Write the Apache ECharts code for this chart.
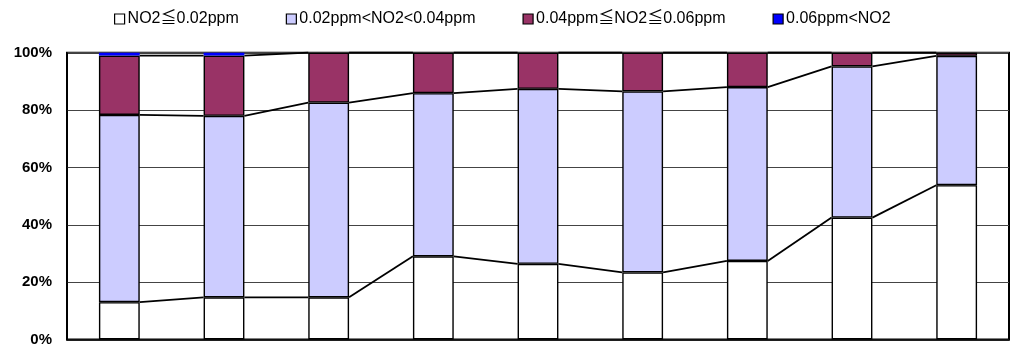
<!DOCTYPE html>
<html>
<head>
<meta charset="utf-8">
<script src="https://cdn.jsdelivr.net/npm/echarts@6/dist/echarts.min.js"></script>
<style>
  html, body { margin: 0; padding: 0; background: #fff; }
  #chart { width: 1011px; height: 347px; }
</style>
</head>
<body>
<div id="chart"></div>
<script>
// Survey groups (axis labels fall below the visible frame)
const categories = ['1', '2', '3', '4', '5', '6', '7', '8', '9'];

// Share of measurements per NO2 concentration band (%)
const low = [13.0, 14.7, 14.7, 29.0, 26.4, 23.4, 27.4, 42.5, 53.8];
const midLow = [65.3, 63.3, 67.9, 56.9, 61.0, 63.1, 60.6, 52.7, 45.1];
const midHigh = [20.7, 21.0, 17.4, 14.1, 12.6, 13.5, 12.0, 4.8, 1.1];
const high = [1.0, 1.0, 0, 0, 0, 0, 0, 0, 0];

const seriesNames = ['NO2≦0.02ppm', '0.02ppm<NO2<0.04ppm', '0.04ppm≦NO2≦0.06ppm', '0.06ppm<NO2'];
const seriesColors = ['#FFFFFF', '#CCCCFF', '#993366', '#0000FF'];
const yTicks = [0, 20, 40, 60, 80, 100];

const bands = [low, midLow, midHigh, high];
const BAR_RATIO = 0.39;

// Cumulative tops of the first three bands, used for the connecting series lines
const cumulative = [];
let running = categories.map(() => 0);
for (let b = 0; b < 3; b++) {
  running = running.map((v, i) => v + bands[b][i]);
  cumulative.push(running.slice());
}
const connectorData = [];
cumulative.forEach(level => {
  for (let i = 0; i < categories.length - 1; i++) {
    connectorData.push([i, level[i], level[i + 1]]);
  }
});

const chart = echarts.init(document.getElementById('chart'));

const barSeries = bands.map((vals, k) => ({
  name: seriesNames[k],
  type: 'bar',
  stack: 'share',
  barWidth: (BAR_RATIO * 100) + '%',
  data: vals,
  itemStyle: { color: seriesColors[k], borderColor: '#000', borderWidth: k === 3 ? 0 : 1.4 },
  emphasis: { disabled: true }
}));

chart.setOption({
  animation: false,
  textStyle: { fontFamily: 'Liberation Sans, Arial, "Noto Sans CJK JP", sans-serif' },
  legend: {
    data: seriesNames,
    top: 6,
    left: 109,
    icon: 'rect',
    itemWidth: 10,
    itemHeight: 10,
    itemGap: 47,
    selectedMode: false,
    textStyle: { fontSize: 16, color: '#000', padding: [0, 0, 0, -2] },
    itemStyle: { borderColor: '#000', borderWidth: 1.2 }
  },
  grid: {
    left: 67, right: 2, top: 52.7, bottom: 6.3,
    show: true, borderColor: '#000', borderWidth: 2, backgroundColor: 'transparent'
  },
  xAxis: {
    type: 'category',
    data: categories,
    axisTick: { show: false },
    axisLabel: { show: false },
    axisLine: { show: true, lineStyle: { color: '#000', width: 1.5 } }
  },
  yAxis: {
    type: 'value',
    min: yTicks[0],
    max: yTicks[yTicks.length - 1],
    interval: 20,
    axisLine: { show: true, lineStyle: { color: '#000', width: 1.5 } },
    axisTick: { show: false },
    axisLabel: {
      formatter: '{value}%',
      fontSize: 15,
      fontWeight: 'bold',
      color: '#000',
      margin: 15
    },
    splitLine: { show: true, lineStyle: { color: '#444', width: 1 } }
  },
  series: barSeries.concat([{
    type: 'custom',
    name: 'connectors',
    data: connectorData,
    z: 5,
    silent: true,
    renderItem: function (params, api) {
      const i = api.value(0);
      const half = api.size([1, 0])[0] * BAR_RATIO / 2;
      const p0 = api.coord([i, api.value(1)]);
      const p1 = api.coord([i + 1, api.value(2)]);
      return {
        type: 'line',
        shape: { x1: p0[0] + half, y1: p0[1], x2: p1[0] - half, y2: p1[1] },
        style: { stroke: '#000', lineWidth: 1.8 }
      };
    }
  }])
});
</script>
</body>
</html>
